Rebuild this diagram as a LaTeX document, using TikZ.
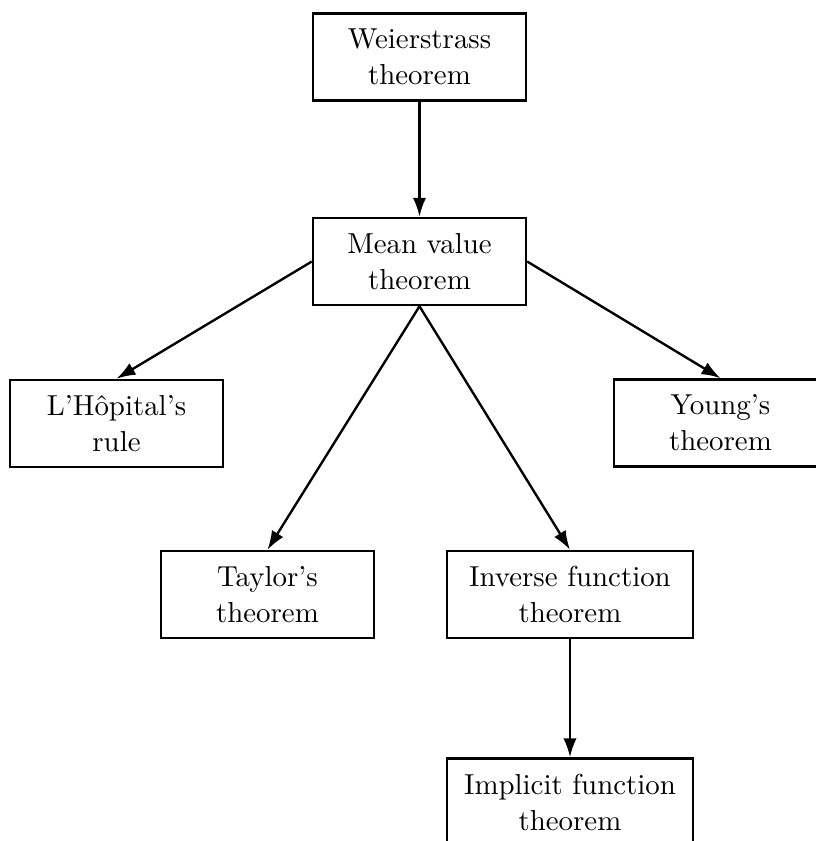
\documentclass[tikz,border=0pt]{standalone}
\usetikzlibrary{arrows.meta}
\begin{document}
\begin{tikzpicture}[x=0.3584pt,y=-0.3584pt,
  thm/.style={draw,line width=0.9pt,align=center,font=\fontsize{10.35pt}{12.9pt}\selectfont,minimum width=76.3pt,minimum height=31.2pt,inner xsep=4pt,inner ysep=3pt},
  wide/.style={thm,minimum width=88.2pt},
  conn/.style={line width=0.85pt,-{Latex[length=6.8pt,width=4.8pt]}}]
\useasboundingbox (0,0) rectangle (816,841);
\clip (0,0) rectangle (816,841);
\node[thm] (W) at (419.5,57) {Weierstrass\\theorem};
\node[thm] (MV) at (419.5,261.5) {Mean value\\theorem};
\node[thm] (LH) at (116.5,423.5) {L'Hôpital's\\rule};
\node[thm] (Y) at (720.5,423) {Young's\\theorem};
\node[thm] (T) at (267.5,594.5) {Taylor's\\theorem};
\node[wide] (Inv) at (570,594.5) {Inverse function\\theorem};
\node[wide] (Imp) at (570,802) {Implicit function\\theorem};
\draw[conn] (W.south) -- (MV.north);
\draw[conn] (MV.west) -- (LH.north);
\draw[conn] (MV.east) -- (Y.north);
\draw[conn] (MV.south) -- (T.north);
\draw[conn] (MV.south) -- (Inv.north);
\draw[conn] (Inv.south) -- (Imp.north);
\end{tikzpicture}
\end{document}
